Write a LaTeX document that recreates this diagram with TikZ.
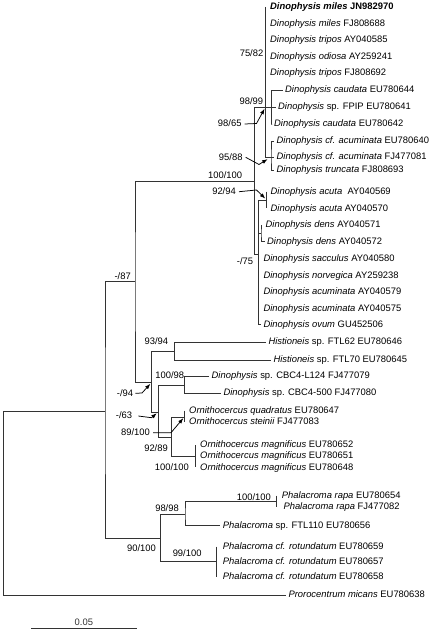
\documentclass[tikz,border=0pt]{standalone}
\usepackage{fontspec}
\setmainfont{Liberation Sans}
\usetikzlibrary{arrows.meta,positioning}

\begin{document}
\begin{tikzpicture}[
	x=1bp,y=-1bp,
	taxon/.style={
		anchor=west,
		inner xsep=2.5bp, inner ysep=0pt,
		text height=7bp, text depth=1.5bp,
		font=\fontsize{9.4bp}{11bp}\selectfont
	},
	boot/.style={
		anchor=east,
		inner sep=0pt,
		text height=7bp, text depth=1.5bp,
		font=\fontsize{9.4bp}{11bp}\selectfont
	},
	branch/.style={line width=0.75bp, black!80},
	pointer/.style={line width=0.75bp, -{Latex[length=5.5bp,width=4bp]}, shorten >=2bp}
	]
	\useasboundingbox (0,0) rectangle (430,632);
	
	\coordinate (root) at (3.5,503);
	\coordinate (ingr) at (105,411.7);
	\coordinate (n87) at (135,281.7);
	\coordinate (n100a) at (254.5,181);
	\coordinate (n9865) at (265.5,107);
	\coordinate (n7582) at (265.5,57);
	\coordinate (n9899) at (271.7,107);
	\coordinate (n9588) at (271,157);
	\coordinate (n75) at (258.5,254);
	\coordinate (n9294) at (266.7,200);
	\coordinate (ndens) at (261,233.3);
	\coordinate (n94) at (151.7,382.3);
	\coordinate (n9394) at (174.3,351);
	\coordinate (n63) at (158.3,412);
	\coordinate (n10098) at (184.3,385);
	\coordinate (n9289) at (171.7,437);
	\coordinate (n89100) at (184.3,417);
	\coordinate (nmagn) at (195,456);
	\coordinate (nphal) at (160.7,538.3);
	\coordinate (n9898) at (185,514.5);
	\coordinate (nrapa) at (276,501.3);
	\coordinate (nrot) at (216,561.7);
	
	\node[taxon] (mil1) at (267.5,7) {\textbf{\textit{Dinophysis miles} JN982970}};
	\node[taxon] (mil2) at (267.5,23.5) {\textit{Dinophysis miles} FJ808688};
	\node[taxon] (tri1) at (267.5,40) {\textit{Dinophysis tripos} AY040585};
	\node[taxon] (odi) at (267.5,56.5) {\textit{Dinophysis odiosa} AY259241};
	\node[taxon] (tri2) at (267.5,73) {\textit{Dinophysis tripos} FJ808692};
	\node[taxon] (cau1) at (282.5,90) {\textit{Dinophysis caudata} EU780644};
	\node[taxon] (fpip) at (275.5,107) {\textit{Dinophysis} sp. FPIP EU780641};
	\node[taxon] (cau2) at (271.5,124) {\textit{Dinophysis caudata} EU780642};
	\node[taxon] (acm1) at (274,141) {\textit{Dinophysis cf. acuminata} EU780640};
	\node[taxon] (acm2) at (274,157) {\textit{Dinophysis cf. acuminata} FJ477081};
	\node[taxon] (trun) at (274,170) {\textit{Dinophysis truncata} FJ808693};
	\node[taxon] (acu1) at (268,191.7) {\textit{Dinophysis acuta}\ \ AY040569};
	\node[taxon] (acu2) at (268,208.3) {\textit{Dinophysis acuta} AY040570};
	\node[taxon] (den1) at (263,225) {\textit{Dinophysis dens} AY040571};
	\node[taxon] (den2) at (264.5,241.7) {\textit{Dinophysis dens} AY040572};
	\node[taxon] (sac) at (260.8,258.5) {\textit{Dinophysis sacculus} AY040580};
	\node[taxon] (nor) at (260.8,275.3) {\textit{Dinophysis norvegica} AY259238};
	\node[taxon] (acm3) at (260.8,292) {\textit{Dinophysis acuminata} AY040579};
	\node[taxon] (acm4) at (260.8,308.7) {\textit{Dinophysis acuminata} AY040575};
	\node[taxon] (ovu) at (260.8,324.7) {\textit{Dinophysis ovum} GU452506};
	\node[taxon] (his1) at (265.8,342) {\textit{Histioneis} sp. FTL62 EU780646};
	\node[taxon] (his2) at (270.8,360) {\textit{Histioneis} sp. FTL70 EU780645};
	\node[taxon] (cbc1) at (209,376) {\textit{Dinophysis} sp. CBC4-L124 FJ477079};
	\node[taxon] (cbc2) at (220.8,393) {\textit{Dinophysis} sp. CBC4-500 FJ477080};
	\node[taxon] (quad) at (186.5,410.5) {\textit{Ornithocercus quadratus} EU780647};
	\node[taxon] (stei) at (186.5,422) {\textit{Ornithocercus steinii} FJ477083};
	\node[taxon] (mag1) at (197.5,445) {\textit{Ornithocercus magnificus} EU780652};
	\node[taxon] (mag2) at (197.5,456) {\textit{Ornithocercus magnificus} EU780651};
	\node[taxon] (mag3) at (197.5,467.3) {\textit{Ornithocercus magnificus} EU780648};
	\node[taxon] (rap1) at (279.2,495.7) {\textit{Phalacroma rapa} EU780654};
	\node[taxon] (rap2) at (280.8,507) {\textit{Phalacroma rapa} FJ477082};
	\node[taxon] (ftl) at (220.2,525.7) {\textit{Phalacroma} sp. FTL110 EU780656};
	\node[taxon] (rot1) at (220.2,546.7) {\textit{Phalacroma cf. rotundatum} EU780659};
	\node[taxon] (rot2) at (220.2,561.7) {\textit{Phalacroma cf. rotundatum} EU780657};
	\node[taxon] (rot3) at (220.2,576.7) {\textit{Phalacroma cf. rotundatum} EU780658};
	\node[taxon] (pro) at (285.8,595) {\textit{Prorocentrum micans} EU780638};
	
	\node[boot] (b7582) at (263.5,53.5) {75/82};
	\node[boot] (b9899) at (263.3,101.7) {98/99};
	\node[boot] (b9865) at (241.7,124) {98/65};
	\node[boot] (b9588) at (242.7,157.3) {95/88};
	\node[boot] (b100a) at (242.3,175.7) {100/100};
	\node[boot] (b9294) at (236,191.7) {92/94};
	\node[boot] (b75) at (253.3,261.7) {-/75};
	\node[boot] (b87) at (131,276.7) {-/87};
	\node[boot] (b9394) at (168.3,341.7) {93/94};
	\node[boot] (b10098) at (184.3,376) {100/98};
	\node[boot] (b94) at (133.3,393.3) {-/94};
	\node[boot] (b63) at (132.3,416) {-/63};
	\node[boot] (b89100) at (150,432.7) {89/100};
	\node[boot] (b9289) at (168,448.3) {92/89};
	\node[boot] (bmagn) at (189,467.5) {100/100};
	\node[boot] (brapa) at (271,498) {100/100};
	\node[boot] (b9898) at (179,509) {98/98};
	\node[boot] (bphal) at (156,549) {90/100};
	\node[boot] (brot) at (201.7,554) {99/100};
	
	\draw[branch] (ingr) -| (root) |- (pro.west);
	\draw[branch] (n87) -| (ingr) |- (nphal);
	\draw[branch] (n100a) -| (n87) |- (n94);
	\draw[branch] (n9865) -| (n100a) |- (n75);
	\draw[branch] (n7582 |- mil1.west) -- (n7582);
	\draw[branch] (n9899) -| (n7582);
	\draw[branch] (n7582) -- (n9865) |- (n9588);
	\draw[branch] (cau1.west) -| (n9899) |- (cau2.west);
	\draw[branch] (n9899) -- (fpip.west);
	\draw[branch] (acm1.west) -| (n9588) |- (trun.west);
	\draw[branch] (n9588) -- (acm2.west);
	\draw[branch] (n9294) -| (n75) |- (ovu.west);
	\draw[branch] (n75) |- (ndens);
	\draw[branch] (n9294 |- acu1.west) -- (n9294 |- acu2.west);
	\draw[branch] (ndens |- den1.west) -- (ndens) |- (den2.west);
	\draw[branch] (n9394) -| (n94) |- (n63);
	\draw[branch] (his1.west) -| (n9394) |- (his2.west);
	\draw[branch] (n10098) -| (n63) |- (n9289);
	\draw[branch] (cbc1.west) -| (n10098) |- (cbc2.west);
	\draw[branch] (n89100) -| (n9289) |- (nmagn);
	\draw[branch] (n89100 |- quad.west) -- (n89100 |- stei.west);
	\draw[branch] (nmagn |- mag1.west) -- (nmagn |- mag3.west);
	\draw[branch] (n9898) -| (nphal) |- (nrot);
	\draw[branch] (nrapa) -| (n9898) |- (ftl.west);
	\draw[branch] (nrapa |- rap1.west) -- (nrapa |- rap2.west);
	\draw[branch] (nrot |- rot1.west) -- (nrot |- rot3.west);
	
	\draw[pointer] ([xshift=3bp]b9865.east) -- (256.5,123.5) -- (n9865);
	\draw[pointer,shorten >=4bp] ([xshift=3bp]b9588.east) -- (259,164.5) -- (n9588);
	\draw[pointer] ([xshift=3bp]b9294.east) -- (256.5,190) -- (n9294);
	\draw[pointer] ([xshift=2bp]b94.east) -- (142,393) -- (n94);
	\draw[pointer] ([xshift=6bp]b63.east) -- (151.5,417.7) -- (n63);
	\draw[pointer,shorten >=1.5bp] ([xshift=3bp]b89100.east) -- (171,432.7) -- (n89100);
	
	\coordinate (sbl) at (31,628.3);
	\coordinate (sbr) at (136.7,628.3);
	\draw[branch] (sbl) -- node[boot,anchor=south,above=0.8bp] (scale) {0.05} (sbr);
\end{tikzpicture}
\end{document}
